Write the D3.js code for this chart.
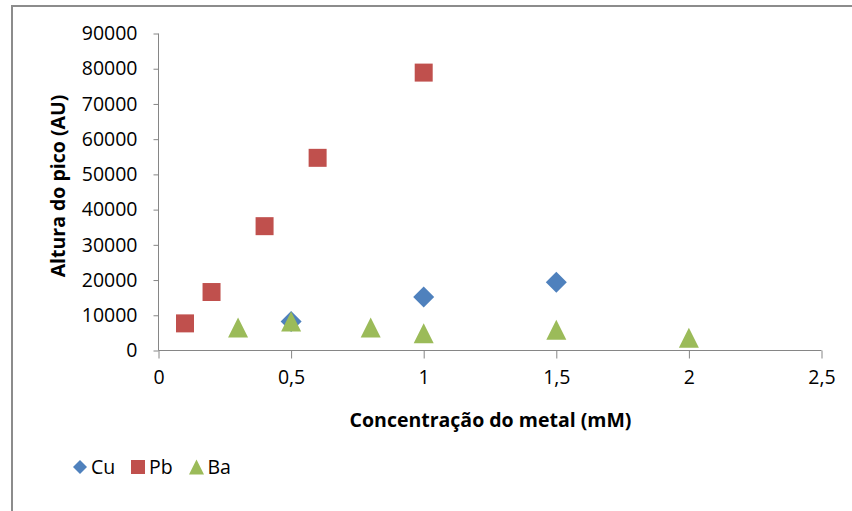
<!DOCTYPE html>
<html><head><meta charset="utf-8">
<script src="https://cdn.jsdelivr.net/npm/d3@7"></script>
<style>
html,body{margin:0;padding:0;background:#fff;}
svg{display:block;}
text{font-family:"Open Sans",sans-serif;fill:#000;}
</style></head>
<body>
<svg id="chart" width="852" height="511"></svg>
<script>
const seriesNames = ["Cu", "Pb", "Ba"];
const seriesColors = ["#4F81BD", "#C0504D", "#9BBB59"];
const cuX = [0.5, 1.0, 1.5];
const cuY = [8200, 15200, 19400];
const pbX = [0.1, 0.2, 0.4, 0.6, 1.0];
const pbY = [7700, 16600, 35300, 54700, 78900];
const baX = [0.3, 0.5, 0.8, 1.0, 1.5, 2.0];
const baY = [6500, 8200, 6500, 4900, 5900, 3600];
const xTicks = [0, 0.5, 1, 1.5, 2, 2.5];
const xTickLabels = ["0", "0,5", "1", "1,5", "2", "2,5"];
const yTicks = [0, 10000, 20000, 30000, 40000, 50000, 60000, 70000, 80000, 90000];
const xTitle = "Concentração do metal (mM)";
const yTitle = "Altura do pico (AU)";

const svg = d3.select("#chart");
const x = d3.scaleLinear().domain([0, 2.5]).range([158.5, 821.5]);
const y = d3.scaleLinear().domain([0, 90000]).range([350.5, 33.5]);
const axisColor = "#868686";

// frame
svg.append("path").attr("d", "M12,511 L12,6 L852,6")
  .attr("fill", "none").attr("stroke", "#8c8c8c").attr("stroke-width", 2);

// y axis
const yAxis = d3.axisLeft(y).tickValues(yTicks).tickSize(5).tickPadding(16)
  .tickFormat(d => String(d));
const gy = svg.append("g").attr("transform", "translate(158.5,0)").call(yAxis);
gy.select(".domain").attr("stroke", axisColor).attr("d", `M0,${y(0)}V${y(90000)}`);
gy.selectAll(".tick line").attr("stroke", axisColor);
gy.selectAll(".tick text").attr("font-family", "Open Sans").attr("font-size", 19.5).attr("fill", "#000");

// x axis
const xAxis = d3.axisBottom(x).tickValues(xTicks).tickSize(8).tickPadding(12)
  .tickFormat((d, i) => xTickLabels[i]);
const gx = svg.append("g").attr("transform", `translate(0,${y(0)})`).call(xAxis);
gx.select(".domain").attr("stroke", axisColor).attr("d", `M${x(0)},0H${x(2.5)}`);
gx.selectAll(".tick line").attr("stroke", axisColor);
gx.selectAll(".tick text").attr("font-family", "Open Sans").attr("font-size", 19.5).attr("fill", "#000");

// titles
svg.append("text").attr("x", 490.5).attr("y", 427).attr("text-anchor", "middle")
  .attr("font-weight", "bold").attr("font-size", 19.5).text(xTitle);
svg.append("text").attr("transform", "translate(65,186) rotate(-90)").attr("text-anchor", "middle")
  .attr("font-weight", "bold").attr("font-size", 19.5).text(yTitle);

// marker shapes
function shape(kind, s) {
  const h = s / 2;
  if (kind === 0) return `M0,${-h}L${h},0L0,${h}L${-h},0Z`;
  if (kind === 1) return `M${-h},${-h}H${h}V${h}H${-h}Z`;
  return `M0,${-h}L${h},${h}L${-h},${h}Z`;
}
const sizes = [21, 18, 20];
const data = [
  cuX.map((d, i) => [d, cuY[i]]),
  pbX.map((d, i) => [d, pbY[i]]),
  baX.map((d, i) => [d, baY[i]])
];
data.forEach((pts, si) => {
  svg.append("g").selectAll("path").data(pts).join("path")
    .attr("transform", d => `translate(${x(d[0])},${y(d[1])})`)
    .attr("d", shape(si, sizes[si]))
    .attr("fill", seriesColors[si]);
});

// legend
const legendX = [80, 138, 196.5];
const legendSizes = [14, 14, 15];
const lg = svg.append("g");
seriesNames.forEach((n, i) => {
  lg.append("path").attr("transform", `translate(${legendX[i]},467)`)
    .attr("d", shape(i, legendSizes[i])).attr("fill", seriesColors[i]);
  lg.append("text").attr("x", legendX[i] + 11).attr("y", 474).attr("font-size", 19.5).text(n);
});
</script>
</body></html>
